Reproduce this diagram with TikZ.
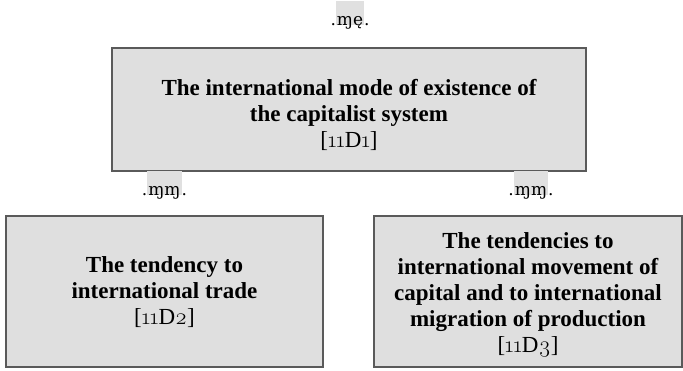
\documentclass[tikz,border=0pt]{standalone}
\usepackage{fontspec}
\setmainfont{Liberation Serif}
\newfontfamily\lblfont{DejaVu Serif}
\newfontfamily\numfont[Numbers=OldStyle]{Latin Modern Roman}
\definecolor{boxfill}{HTML}{DFDFDF}
\definecolor{boxline}{HTML}{5A5A5A}
\definecolor{hl}{HTML}{E0E0E0}
\newcommand\hlbox[1]{{\setlength\fboxsep{0pt}\colorbox{hl}{\hspace{1pt}\raisebox{0pt}[24pt][-2pt]{#1}\hspace{1pt}}}}
\newcommand\refnum[2]{\mdseries[{\numfont 11}D{\numfont #1}#2]}
\begin{document}
\begin{tikzpicture}[x=1pt,y=-1pt,
  boxshape/.style={draw=boxline, line width=1.6pt, fill=boxfill, inner sep=0pt},
  boxtext/.style={inner sep=0pt, align=center, font=\fontsize{23}{26}\selectfont},
  lbl/.style={font=\lblfont\fontsize{17}{17}\selectfont, inner sep=0pt, anchor=base}]
\useasboundingbox (0,0) rectangle (683,370);
\node[boxshape, minimum width=474pt, minimum height=123pt] (top) at (349,109.5) {};
\node[boxshape, minimum width=317pt, minimum height=151pt] (left) at (164.5,291.5) {};
\node[boxshape, minimum width=308pt, minimum height=151pt] (right) at (528,291.5) {};
\node[boxtext] (toptext) at ([yshift=-5pt]top.center)
  {\bfseries The international mode of existence of\\\bfseries the capitalist system\\\refnum{1}{}};
\node[boxtext] (lefttext) at ([yshift=-1pt]left.center)
  {\bfseries The tendency to\\\bfseries international trade\\\refnum{2}{}};
\node[boxtext] (righttext) at ([yshift=-3pt]right.center)
  {\bfseries The tendencies to\\\bfseries international movement of\\\bfseries capital and to international\\\bfseries migration of production\\\refnum{3}{}};
\node[lbl] (l0) at (350,25) {.\hlbox{ɱę}.};
\node[lbl] (l1) at (164.5,195) {.\hlbox{ɱɱ}.};
\node[lbl] (l2) at (531,195) {.\hlbox{ɱɱ}.};
\end{tikzpicture}
\end{document}
